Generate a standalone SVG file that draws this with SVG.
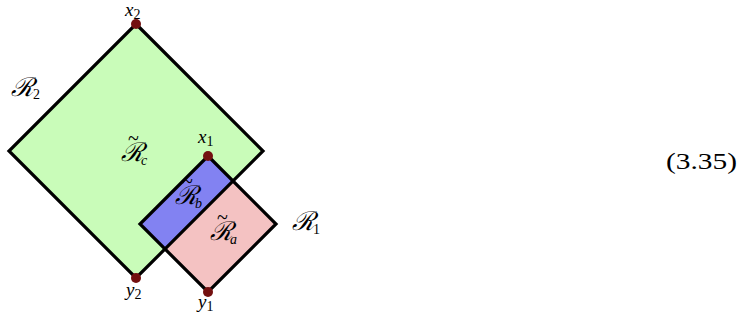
<svg xmlns="http://www.w3.org/2000/svg" width="749" height="325" viewBox="0 0 749 325">
<style>
.edge{fill:none;stroke:#000;stroke-width:3.2;stroke-linejoin:miter;stroke-linecap:round}
.dot{fill:#731010}
text{fill:#000}
.m{font-family:'Liberation Serif',serif;font-style:italic;font-size:19px}
.s{font-family:'Liberation Serif',serif;font-style:normal;font-size:14px}
.si{font-family:'Liberation Serif',serif;font-style:italic;font-size:14px}
.cal{font-family:'DejaVu Serif',serif;font-style:italic;font-size:26px}
.t{font-family:'Liberation Serif',serif;font-style:normal;font-size:20px}
.num{font-family:'Liberation Serif',serif;font-size:24px}
</style>
<rect width="749" height="325" fill="#fff"/>
<g id="R2">
<polygon points="136,24 263,151 136,278 9,151" fill="#c9fcb9"/>
</g>
<g id="R1">
<polygon points="208,156 276,224 208,292 140,224" fill="#f4c2c2"/>
</g>
<g id="Rb">
<polygon points="208,156 233,181 165,249 140,224" fill="#8282f2"/>
</g>
<g id="connectors">
<polygon class="edge" points="136,24 263,151 136,278 9,151"/>
<polygon class="edge" points="208,156 276,224 208,292 140,224"/>
</g>
<g id="points">
<circle class="dot" cx="136" cy="24" r="5"/>
<circle class="dot" cx="208" cy="156" r="5"/>
<circle class="dot" cx="136" cy="278" r="5"/>
<circle class="dot" cx="208" cy="292" r="5"/>
</g>
<g id="labels">
<text class="m" x="125" y="16">x<tspan class="s" dy="3">2</tspan></text>
<text class="m" x="198" y="143">x<tspan class="s" dy="3">1</tspan></text>
<text class="m" x="126" y="296">y<tspan class="s" dy="3">2</tspan></text>
<text class="m" x="198" y="308">y<tspan class="s" dy="3">1</tspan></text>
<text class="cal" x="11" y="96">ℛ<tspan class="s" x="33" y="99">2</tspan></text>
<text class="cal" x="292" y="230">ℛ<tspan class="s" x="313" y="234">1</tspan></text>
<text class="cal" x="121" y="161">ℛ<tspan class="t" x="128" y="145">~</tspan><tspan class="si" x="141" y="165">c</tspan></text>
<text class="cal" x="175" y="204">ℛ<tspan class="t" x="182" y="188">~</tspan><tspan class="si" x="195" y="208">b</tspan></text>
<text class="cal" x="210" y="240">ℛ<tspan class="t" x="217" y="224">~</tspan><tspan class="si" x="230" y="244">a</tspan></text>
<text class="num" x="666" y="169" textLength="71" lengthAdjust="spacingAndGlyphs">(3.35)</text>
</g>
</svg>
